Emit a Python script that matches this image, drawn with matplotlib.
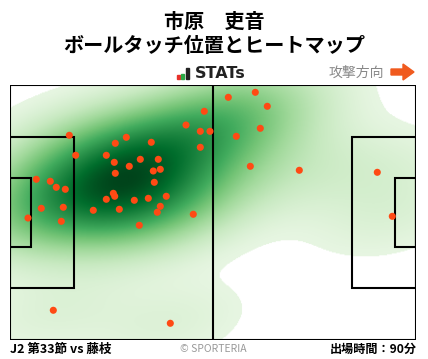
import numpy as np
import matplotlib
matplotlib.use("Agg")
import matplotlib.pyplot as plt
from matplotlib.patches import Rectangle, Polygon

plt.rcParams['font.family'] = ['Noto Sans CJK JP', 'DejaVu Sans']

# ball touch positions (pitch metres, x: 0-105 attacking right, y: 0-68 from top)
touch_x = [50.25, 45.52, 49.22, 51.72, 49.22, 15.34, 16.99, 30.08, 27.23, 36.54,
           24.91, 26.97, 33.70, 38.35, 30.85, 37.06, 38.87, 27.23, 37.32, 6.80,
           10.42, 11.97, 14.30, 26.72, 27.08, 24.91, 32.15, 35.77, 40.42, 38.87,
           38.09, 8.09, 13.78, 21.54, 28.27, 47.40, 4.66, 13.27, 33.44, 11.20,
           41.46, 56.46, 63.44, 66.54, 64.73, 58.53, 62.15, 74.82, 94.99, 98.87]
touch_y = [7.13, 10.78, 12.46, 12.46, 16.71, 13.52, 18.84, 14.05, 15.65, 15.38,
           18.84, 20.71, 19.91, 19.91, 21.77, 23.02, 22.57, 23.63, 26.03, 25.23,
           25.76, 27.36, 27.89, 28.96, 29.75, 30.55, 30.82, 30.29, 29.75, 32.42,
           34.01, 32.95, 32.68, 33.48, 33.21, 34.54, 35.53, 36.41, 37.47, 60.09,
           63.55, 3.41, 2.08, 5.80, 11.66, 13.79, 21.77, 22.83, 23.37, 35.08]

title1 = "市原\u3000吏音"
title2 = "ボールタッチ位置とヒートマップ"
match_label = "J2 第33節 vs 藤枝"
minutes_label = "出場時間：90分"

L, W = 105, 68

fig = plt.figure(figsize=(4.28, 3.59), dpi=100)
fig.patch.set_facecolor('white')

def fx(px):
    return px / 428

def fy(py):
    return 1 - py / 359

ax = fig.add_axes([fx(10), fy(340), (416 - 10) / 428, (340 - 84.5) / 359])

# gaussian KDE done by hand
pts = np.vstack([touch_x, touch_y])
n = pts.shape[1]
bw = 0.68
cov = np.cov(pts) * bw ** 2
inv = np.linalg.inv(cov)
gx, gy = np.meshgrid(np.linspace(0, L, 420), np.linspace(0, W, 272))
dens = np.zeros_like(gx)
for i in range(n):
    dx = gx - pts[0, i]
    dy = gy - pts[1, i]
    q = inv[0, 0] * dx * dx + 2 * inv[0, 1] * dx * dy + inv[1, 1] * dy * dy
    dens += np.exp(-0.5 * q)
dens = dens / dens.max()

# colour it, then blank out the low tail to white
level = 0.07 + 0.93 * np.clip(dens, 0, 1) ** 0.8
rgb = plt.get_cmap('Greens')(level)
rgb[dens < 0.022] = (1, 1, 1, 1)

ax.imshow(rgb, extent=(0, L, W, 0), origin='upper',
          aspect='auto', interpolation='bilinear', zorder=1)

ax.scatter(touch_x, touch_y, s=26, color='#ff4a14', edgecolors='none', zorder=4)

# pitch lines
lc = 'black'
lw = 1.5
ax.add_patch(Rectangle((0, 0), L, W, fill=False, ec=lc, lw=lw, zorder=3))
ax.plot([L / 2, L / 2], [0, W], color=lc, lw=lw, zorder=3)
for x0, d in [(0, 1), (L, -1)]:
    ax.add_patch(Rectangle((x0, (W - 40.3) / 2), d * 16.5, 40.3, fill=False, ec=lc, lw=lw, zorder=3))
    ax.add_patch(Rectangle((x0, (W - 18.3) / 2), d * 5.5, 18.3, fill=False, ec=lc, lw=lw, zorder=3))

ax.set_xlim(0, L)
ax.set_ylim(W, 0)
ax.axis('off')

# titles
fig.text(0.5, fy(21.5), title1, ha='center', va='center', fontsize=14.5, fontweight='bold')
fig.text(0.5, fy(46), title2, ha='center', va='center', fontsize=14.5, fontweight='bold')

# STATs logo
for x0, h, c in [(177, 4, '#e8302a'), (181, 5, '#2aa845'), (186, 11, '#222222')]:
    fig.patches.append(Rectangle((fx(x0), fy(79)), 3.2 / 428, h / 359,
                                 transform=fig.transFigure, color=c))
fig.text(fx(195), fy(73), "STATs", ha='left', va='center', fontsize=11.5,
         fontweight='bold', color='#222222', family='DejaVu Sans')

# attack direction
fig.text(fx(384), fy(72.5), "攻撃方向", ha='right', va='center', fontsize=10, color='#888888')
arrow = [(391, 69), (403, 69), (403, 64), (414, 72), (403, 80), (403, 75), (391, 75)]
fig.patches.append(Polygon([(fx(a), fy(b)) for a, b in arrow], closed=True,
                           transform=fig.transFigure, color='#f05a1e'))

# footer
fig.text(fx(10), fy(349), match_label, ha='left', va='center', fontsize=9, fontweight='bold')
fig.text(fx(213), fy(348.5), "© SPORTERIA", ha='center', va='center', fontsize=7.5, color='#999999')
fig.text(fx(417), fy(349), minutes_label, ha='right', va='center', fontsize=8.7, fontweight='bold')

fig.savefig('out.png', dpi=100)
